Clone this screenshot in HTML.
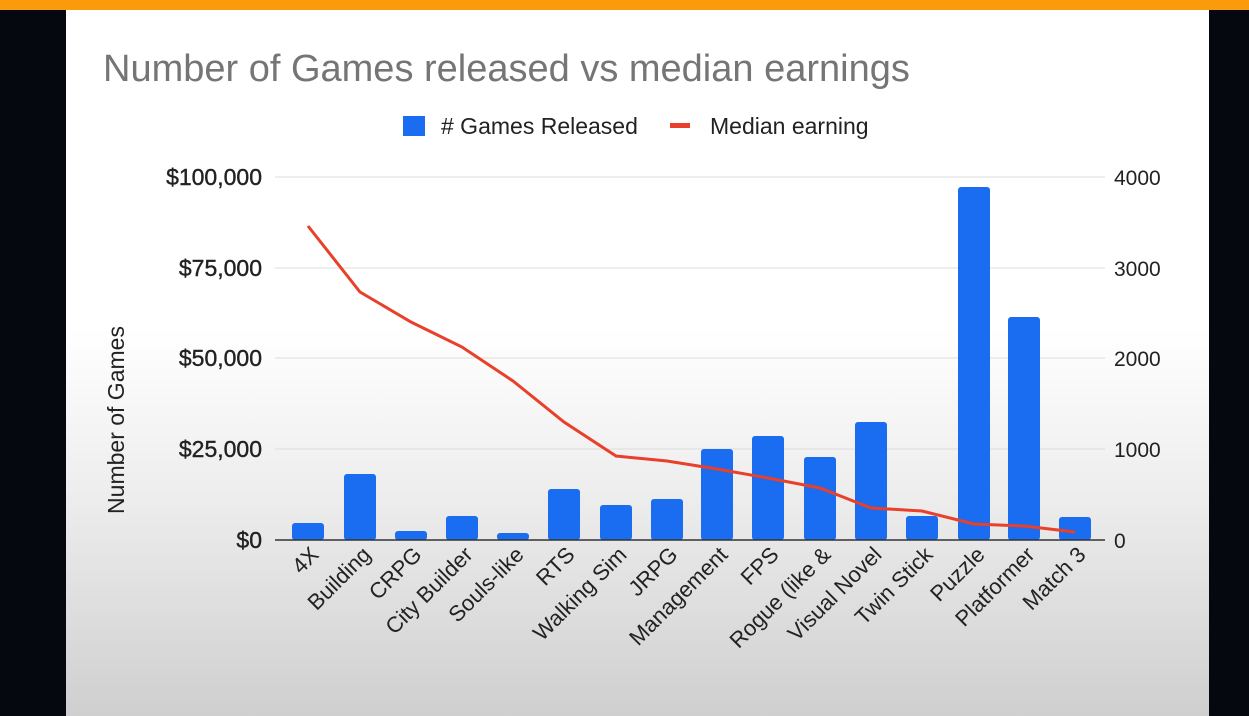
<!DOCTYPE html>
<html><head><style>
body{margin:0;width:1249px;height:716px;overflow:hidden;background:#05080f;position:relative;font-family:"Liberation Sans",sans-serif}
#top{position:absolute;left:0;top:0;width:1249px;height:10px;background:#fb9a0a}
#slide{position:absolute;left:66px;top:10px;width:1143px;height:706px;background:linear-gradient(#fff 0%,#fff 45%,#ececec 70%,#cfcfcf 100%)}
svg{position:absolute;left:0;top:0}
</style></head><body>
<div id="top"></div><div id="slide"></div>
<svg width="1249" height="716" font-family="Liberation Sans, sans-serif">
<text x="103" y="81" font-size="38" fill="#757575">Number of Games released vs median earnings</text>
<rect x="403" y="116" width="22" height="20" fill="#1a6cf0"/>
<text x="441" y="134" font-size="23" fill="#222">#  Games Released</text>
<rect x="670" y="123" width="20" height="5" fill="#e8402a"/>
<text x="710" y="134" font-size="23" fill="#222">Median earning</text>
<g stroke="#dcdcdc" stroke-width="1">
<line x1="275" x2="1105" y1="177" y2="177"/><line x1="275" x2="1105" y1="268" y2="268"/>
<line x1="275" x2="1105" y1="358" y2="358"/><line x1="275" x2="1105" y1="449" y2="449"/>
</g>
<g font-size="23" fill="#222" stroke="#222" stroke-width="0.4" text-anchor="end">
<text x="262" y="185">$100,000</text><text x="262" y="276">$75,000</text><text x="262" y="366">$50,000</text><text x="262" y="457">$25,000</text><text x="262" y="548">$0</text>
</g>
<g font-size="21" fill="#222">
<text x="1114" y="185">4000</text><text x="1114" y="276">3000</text><text x="1114" y="366">2000</text><text x="1114" y="457">1000</text><text x="1114" y="548">0</text>
</g>
<text transform="translate(124,420) rotate(-90)" font-size="23" fill="#222" text-anchor="middle">Number of Games</text>
<g fill="#1a6cf0">
<rect x="292" y="523" width="32" height="17" rx="3"/><rect x="344" y="474" width="32" height="66" rx="3"/>
<rect x="395" y="531" width="32" height="9" rx="3"/><rect x="446" y="516" width="32" height="24" rx="3"/>
<rect x="497" y="533" width="32" height="7" rx="3"/><rect x="548" y="489" width="32" height="51" rx="3"/>
<rect x="600" y="505" width="32" height="35" rx="3"/><rect x="651" y="499" width="32" height="41" rx="3"/>
<rect x="701" y="449" width="32" height="91" rx="3"/><rect x="752" y="436" width="32" height="104" rx="3"/>
<rect x="804" y="457" width="32" height="83" rx="3"/><rect x="855" y="422" width="32" height="118" rx="3"/>
<rect x="906" y="516" width="32" height="24" rx="3"/><rect x="958" y="187" width="32" height="353" rx="3"/>
<rect x="1008" y="317" width="32" height="223" rx="3"/><rect x="1059" y="517" width="32" height="23" rx="3"/>
</g>
<line x1="275" x2="1105" y1="540" y2="540" stroke="#333" stroke-width="1.5"/>
<polyline fill="none" stroke="#e8402a" stroke-width="3" points="308,226 360,292 411,322 462,347 513,381 564,422 616,456 667,461 717,469 768,478 820,488 871,508 922,511 974,524 1024,526 1075,532"/>
<g font-size="22" fill="#222" text-anchor="end">
<text transform="translate(320,556) rotate(-45)">4X</text>
<text transform="translate(372,556) rotate(-45)">Building</text>
<text transform="translate(423,556) rotate(-45)">CRPG</text>
<text transform="translate(474,556) rotate(-45)">City Builder</text>
<text transform="translate(525,556) rotate(-45)">Souls-like</text>
<text transform="translate(576,556) rotate(-45)">RTS</text>
<text transform="translate(628,556) rotate(-45)">Walking Sim</text>
<text transform="translate(679,556) rotate(-45)">JRPG</text>
<text transform="translate(729,556) rotate(-45)">Management</text>
<text transform="translate(780,556) rotate(-45)">FPS</text>
<text transform="translate(832,556) rotate(-45)">Rogue (like &amp;</text>
<text transform="translate(883,556) rotate(-45)">Visual Novel</text>
<text transform="translate(934,556) rotate(-45)">Twin Stick</text>
<text transform="translate(986,556) rotate(-45)">Puzzle</text>
<text transform="translate(1036,556) rotate(-45)">Platformer</text>
<text transform="translate(1087,556) rotate(-45)">Match 3</text>
</g>
</svg>
</body></html>
